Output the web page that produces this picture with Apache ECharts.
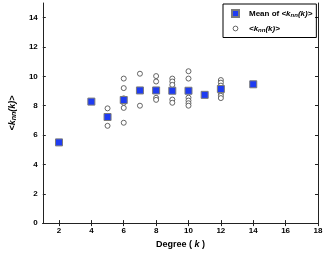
<!DOCTYPE html>
<html><head><meta charset="utf-8">
<script src="https://cdn.jsdelivr.net/npm/echarts@6/dist/echarts.min.js"></script>
<style>html,body{margin:0;padding:0;background:#fff}#c{width:327px;height:254px}</style>
</head><body><div id="c"></div>
<script>
const xTicks = [2,4,6,8,10,12,14,16,18];
const yTicks = [0,2,4,6,8,10,12,14];
const meanDegrees = [2,4,5,6,7,8,9,10,11,12,14];
const meanValues = [5.5,8.28,7.23,8.39,9.04,9.04,9.02,9.02,8.74,9.14,9.46];
const circleDegrees = [5,5, 6,6,6,6,6,6, 7,7, 8,8,8,8, 9,9,9,9,9, 10,10,10,10,10,10, 12,12,12,12,12,12];
const circleValues = [7.82,6.63, 9.85,9.2,8.5,8.2,7.85,6.84, 10.18,8.0, 10.02,9.65,8.54,8.4, 9.85,9.65,9.42,8.42,8.2, 10.35,9.85,8.55,8.35,8.17,8.0, 9.75,9.57,9.37,8.85,8.68,8.52];

const font = 'Liberation Sans, Arial, sans-serif';
const chart = echarts.init(document.getElementById('c'), null, {renderer:'canvas'});
function mkRich(fs){
  return {
    b:{fontFamily:font,fontWeight:'bold',fontStyle:'italic',fontSize:fs,color:'#000'},
    s:{fontFamily:font,fontWeight:'bold',fontStyle:'italic',fontSize:fs-2,color:'#000',verticalAlign:'bottom',padding:[4,0,0,0]},
    n:{fontFamily:font,fontWeight:'bold',fontSize:fs,color:'#000'},
    g:{width:5}
  };
}
const lineStyle = {color:'#222',width:1};
chart.setOption({
  animation:false,
  grid:{left:30,right:9,top:3,bottom:22},
  legend:{
    orient:'vertical', left:223, top:4,
    borderColor:'#000', borderWidth:1, padding:[5,4,4,8],
    itemWidth:7, itemHeight:7, itemGap:6,
    data:[
      {name:'mean', icon:'rect'},
      {name:'vals', icon:'path://M0,0L0,0M10,10L10,10M5,1.6A3.4,3.4,0,1,1,5,8.4A3.4,3.4,0,1,1,5,1.6Z', itemStyle:{borderWidth:0.9}}
    ],
    formatter:function(n){ return n==='mean' ? '{g|}{n|Mean of }{b|<k}{s|nn}{b|(k)>}' : '{g|}{b|<k}{s|nn}{b|(k)>}'; },
    textStyle:{rich:mkRich(8), fontSize:8}
  },
  xAxis:[{
    type:'value', min:1, max:18, position:'bottom',
    name:'Degree ( {i|k} )', nameLocation:'middle', nameGap:11,
    nameTextStyle:{fontFamily:font,fontWeight:'bold',fontSize:9,color:'#000',rich:{i:{fontFamily:font,fontWeight:'bold',fontStyle:'italic',fontSize:9,color:'#000'}}},
    axisLine:{show:true,lineStyle:lineStyle},
    axisTick:{show:true,inside:true,length:3,customValues:xTicks,lineStyle:lineStyle},
    axisLabel:{customValues:xTicks,fontFamily:font,fontWeight:'bold',fontSize:8,color:'#000',margin:4},
    splitLine:{show:false}
  },{
    type:'value', min:1, max:18, position:'top',
    axisLine:{show:true,lineStyle:lineStyle},
    axisTick:{show:true,inside:true,length:3,customValues:xTicks,lineStyle:lineStyle},
    axisLabel:{show:false}, splitLine:{show:false}
  }],
  yAxis:[{
    type:'value', min:0, max:15, interval:2, position:'left',
    name:'{b|<k}{s|nn}{b|(k)>}', nameLocation:'middle', nameGap:17, nameRotate:90,
    nameTextStyle:{rich:mkRich(9)},
    axisLine:{show:true,lineStyle:lineStyle},
    axisTick:{show:true,inside:true,length:3,customValues:yTicks,lineStyle:lineStyle},
    axisLabel:{customValues:yTicks,fontFamily:font,fontWeight:'bold',fontSize:8,color:'#000',margin:5},
    splitLine:{show:false}
  },{
    type:'value', min:0, max:15, position:'right',
    axisLine:{show:true,lineStyle:lineStyle},
    axisTick:{show:true,inside:true,length:3,customValues:yTicks,lineStyle:lineStyle},
    axisLabel:{show:false}, splitLine:{show:false}
  }],
  series:[{
    name:'mean', type:'scatter', symbol:'rect', symbolSize:7, z:3,
    itemStyle:{color:'#1f3cf2',borderColor:'#7a7a7a',borderWidth:1,opacity:1},
    data:meanDegrees.map((d,i)=>[d,meanValues[i]])
  },{
    name:'vals', type:'scatter', symbol:'circle', symbolSize:5, z:2,
    itemStyle:{color:'#fff',borderColor:'#555',borderWidth:0.9,opacity:1},
    data:circleDegrees.map((d,i)=>[d,circleValues[i]])
  }]
});
</script></body></html>
